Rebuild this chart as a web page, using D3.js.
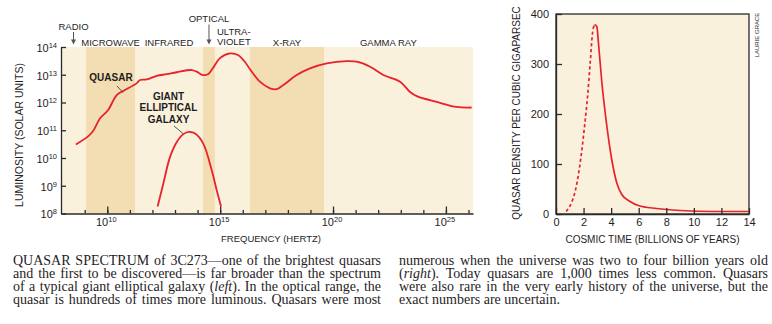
<!DOCTYPE html>
<html>
<head>
<meta charset="utf-8">
<script src="https://cdn.jsdelivr.net/npm/d3@7"></script>
<style>
body { margin: 0; background: #fff; }
svg { display: block; }
.sans { font-family: "Liberation Sans", Arial, sans-serif; fill: #1f1d1e; }
.cap { font-family: "Liberation Serif", "Times New Roman", serif; font-size: 14px; fill: #1f1d1e; }
.axis path, .axis line { stroke: #2a2a2a; stroke-width: 1.3; }
.axis text { font-family: "Liberation Sans", Arial, sans-serif; fill: #1f1d1e; }
</style>
</head>
<body>
<svg id="chart" width="772" height="324"></svg>
<script>
'use strict'

// spectral bands, edges in log10(Hz)
const bandNames = ['RADIO', 'MICROWAVE', 'INFRARED', 'OPTICAL', 'ULTRA-\nVIOLET', 'X-RAY', 'GAMMA RAY']
const bandEdges = [7.95, 9.06, 11.23, 14.24, 14.77, 16.32, 19.6, 26.2]

// 3C273 spectrum: log10(frequency), log10(luminosity in solar units)
const quasarFreq = [8.61, 9.15, 9.38, 9.68, 10.03, 10.42, 10.78, 11.30, 11.45, 11.75, 12.19, 12.63, 13.08, 13.74, 13.96,
	14.24, 14.46, 14.68, 14.99, 15.44, 15.79, 16.10, 16.32, 16.76, 17.21, 17.50, 17.80, 18.39, 18.98, 19.72, 20.61,
	21.05, 21.64, 22.23, 22.97, 23.41, 23.71, 24.59, 25.48, 26.14]
const quasarLum = [10.49, 10.78, 10.98, 11.43, 11.72, 12.27, 12.45, 12.69, 12.81, 12.83, 12.96, 13.02, 13.09, 13.17, 13.11,
	12.99, 13.02, 13.24, 13.60, 13.77, 13.71, 13.46, 13.20, 12.75, 12.51, 12.48, 12.63, 12.99, 13.23, 13.41, 13.49,
	13.47, 13.29, 12.99, 12.75, 12.38, 12.23, 12.02, 11.84, 11.82]

// giant elliptical galaxy spectrum
const galaxyFreq = [12.23, 12.48, 12.78, 13.08, 13.37, 13.63, 13.89, 14.25, 14.63, 14.85, 15.04]
const galaxyLum = [8.25, 9.07, 10.04, 10.58, 10.86, 10.94, 10.88, 10.52, 9.55, 8.83, 8.25]

// quasar density per cubic gigaparsec against cosmic time (billions of years)
const densityTime = [0.74, 1.52, 1.88, 2.07, 2.29, 2.48, 2.65, 2.79, 2.96, 3.08, 3.33, 3.66, 4.05, 4.41, 4.77, 5.37, 5.97, 7.3, 9.0, 11.4, 14]
const densityValue = [5, 62, 129, 175, 235, 302, 362, 379, 375, 342, 262, 182, 108, 62, 39, 25, 17, 11, 7, 5, 5]
const peakTime = 2.79 // the rise before this is uncertain and drawn dashed

const lumTicks = [8, 9, 10, 11, 12, 13, 14]
const freqMajor = [10, 15, 20, 25]
const freqMinor = d3.range(9, 27)
const timeTicks = [0, 2, 4, 6, 8, 10, 12, 14]
const densityTicks = [0, 100, 200, 300, 400]

const captionLeft = [
	'QUASAR SPECTRUM of 3C273\u2014one of the brightest quasars',
	'and the first to be discovered\u2014is far broader than the spectrum',
	'of a typical giant elliptical galaxy (*left*). In the optical range, the',
	'quasar is hundreds of times more luminous. Quasars were most'
]
const captionRight = [
	'numerous when the universe was two to four billion years old',
	'(*right*). Today quasars are 1,000 times less common. Quasars',
	'were also rare in the very early history of the universe, but the',
	'exact numbers are uncertain.'
]

const red = '#e8212b'
const light = '#f9f1dc', dark = '#f3deb3'
const svg = d3.select('#chart')

// ---------- left: spectrum ----------
const x = d3.scaleLinear().domain([bandEdges[0], bandEdges[bandEdges.length - 1]]).range([61, 473])
const y = d3.scaleLinear().domain([8, 14]).range([213.5, 47])

const left = svg.append('g')

// band backgrounds
left.selectAll('rect.band')
	.data(bandNames)
	.enter().append('rect')
	.attr('x', (d, i) => x(bandEdges[i]))
	.attr('width', (d, i) => x(bandEdges[i + 1]) - x(bandEdges[i]))
	.attr('y', y(14))
	.attr('height', y(8) - y(14))
	.attr('fill', (d, i) => i % 2 ? dark : light)

// band names above the plot; narrow bands get a raised label and an arrow
bandNames.forEach((name, i) => {
	const x0 = x(bandEdges[i]), x1 = x(bandEdges[i + 1])
	const narrow = x1 - x0 < 30
	const lines = name.split('\n')
	const t = left.append('text').attr('class', 'sans').style('font-size', '9.5px')
	if (narrow) {
		const cx = (x0 + x1) / 2
		const base = name === 'OPTICAL' ? 22 : 29.5
		t.attr('x', cx).attr('y', base).attr('text-anchor', 'middle').text(name)
		left.append('line')
			.attr('x1', cx).attr('x2', cx).attr('y1', base + 2.5).attr('y2', 42)
			.attr('stroke', '#555').attr('stroke-width', 1)
		left.append('path')
			.attr('d', `M${cx - 2.5},${39.5}L${cx + 2.5},${39.5}L${cx},${44.5}Z`)
			.attr('fill', '#555')
	} else if (lines.length > 1) {
		t.attr('x', x0 + 2).attr('y', 34.5)
		lines.forEach((l, k) => t.append('tspan').attr('x', x0 + 2).attr('dy', k ? 10 : 0).text(l))
	} else {
		const cx = (x0 + Math.min(x1, x(25.3))) / 2
		t.attr('x', cx).attr('y', 45.5).attr('text-anchor', 'middle').text(name)
	}
})

const lumLine = d3.line().curve(d3.curveCatmullRom.alpha(0.5))
	.x(d => x(d[0])).y(d => y(d[1]))

left.append('path')
	.datum(d3.zip(galaxyFreq, galaxyLum))
	.attr('d', lumLine)
	.attr('fill', 'none').attr('stroke', red).attr('stroke-width', 1.8)

left.append('path')
	.datum(d3.zip(quasarFreq, quasarLum))
	.attr('d', lumLine)
	.attr('fill', 'none').attr('stroke', red).attr('stroke-width', 1.8)

// curve labels with leader lines
left.append('text').attr('class', 'sans')
	.style('font-size', '10px').style('font-weight', 'bold')
	.attr('x', 111).attr('y', 80.5).attr('text-anchor', 'middle').text('QUASAR')
left.append('line').attr('x1', 117).attr('y1', 86).attr('x2', 123).attr('y2', 92.5)
	.attr('stroke', '#444').attr('stroke-width', 0.9)
const gx = left.append('text').attr('class', 'sans')
	.style('font-size', '10px').style('font-weight', 'bold').attr('text-anchor', 'middle')
;['GIANT', 'ELLIPTICAL', 'GALAXY'].forEach((l, k) => {
	gx.append('tspan').attr('x', 168.5).attr('y', 99.5 + k * 11.7).text(l)
})
left.append('line').attr('x1', 174).attr('y1', 126).attr('x2', 183).attr('y2', 133.5)
	.attr('stroke', '#444').attr('stroke-width', 0.9)

// power-of-ten label: "10" with raised exponent
function powLabel (sel, size) {
	sel.each(function (d) {
		const t = d3.select(this)
		t.text('')
		t.append('tspan').text('10')
		t.append('tspan').attr('dy', -4).style('font-size', size + 'px').text(d)
	})
}

// x axis: minor decade ticks plus labelled major ones
left.append('g').attr('class', 'axis')
	.attr('transform', `translate(0,${y(8)})`)
	.call(d3.axisBottom(x).tickValues(freqMinor).tickSize(-3.5).tickSizeOuter(0).tickFormat(''))
const xAxis = left.append('g').attr('class', 'axis')
	.attr('transform', `translate(0,${y(8)})`)
	.call(d3.axisBottom(x).tickValues(freqMajor).tickSize(-7).tickSizeOuter(0))
xAxis.select('.domain').remove()
xAxis.selectAll('text')
	.attr('y', 12).attr('dy', 0).attr('dx', -1.5).style('font-size', '11px')
	.call(powLabel, 7.5)

const yAxis = left.append('g').attr('class', 'axis')
	.attr('transform', `translate(${x(bandEdges[0])},0)`)
	.call(d3.axisLeft(y).tickValues(lumTicks).tickSize(-5).tickSizeOuter(0).tickPadding(4))
yAxis.selectAll('text').attr('dy', '0.4em').style('font-size', '11px').call(powLabel, 7.5)

left.append('text').attr('class', 'sans').style('font-size', '9.5px')
	.attr('x', 271).attr('y', 242).attr('text-anchor', 'middle').text('FREQUENCY (HERTZ)')
left.append('text').attr('class', 'sans').style('font-size', '10.5px')
	.attr('transform', 'translate(22.5,135) rotate(-90)').attr('text-anchor', 'middle')
	.text('LUMINOSITY (SOLAR UNITS)')

// ---------- right: quasar density ----------
const tx = d3.scaleLinear().domain([0, 14]).range([556, 749])
const dy = d3.scaleLinear().domain([0, 400]).range([214, 14])

const right = svg.append('g')
right.append('rect')
	.attr('x', tx(0)).attr('y', dy(400))
	.attr('width', tx(14) - tx(0)).attr('height', dy(0) - dy(400))
	.attr('fill', light).attr('stroke', '#2a2a2a').attr('stroke-width', 1.3)

const densityPts = d3.zip(densityTime, densityValue)
const densLine = d3.line().curve(d3.curveMonotoneX).x(d => tx(d[0])).y(d => dy(d[1]))
right.append('path')
	.datum(densityPts.filter(d => d[0] <= peakTime))
	.attr('d', densLine)
	.attr('fill', 'none').attr('stroke', red).attr('stroke-width', 1.7)
	.attr('stroke-dasharray', '3.2,2.6')
right.append('path')
	.datum(densityPts.filter(d => d[0] >= peakTime))
	.attr('d', densLine)
	.attr('fill', 'none').attr('stroke', red).attr('stroke-width', 1.7)

const tAxis = right.append('g').attr('class', 'axis')
	.attr('transform', `translate(0,${dy(0)})`)
	.call(d3.axisBottom(tx).tickValues(timeTicks).tickSize(-6).tickSizeOuter(0))
tAxis.selectAll('text').attr('y', 12).attr('dy', 0).style('font-size', '11px')

const vAxis = right.append('g').attr('class', 'axis')
	.attr('transform', `translate(${tx(0)},0)`)
	.call(d3.axisLeft(dy).tickValues(densityTicks).tickSize(-6).tickSizeOuter(0).tickPadding(7))
vAxis.selectAll('text').attr('dy', '0.36em').style('font-size', '11px')

right.append('text').attr('class', 'sans').style('font-size', '10px')
	.attr('x', 652.5).attr('y', 243).attr('text-anchor', 'middle').text('COSMIC TIME (BILLIONS OF YEARS)')
right.append('text').attr('class', 'sans').style('font-size', '10px')
	.attr('transform', 'translate(520,113) rotate(-90)').attr('text-anchor', 'middle')
	.text('QUASAR DENSITY PER CUBIC GIGAPARSEC')
right.append('text').attr('class', 'sans').style('font-size', '6px')
	.attr('transform', 'translate(759,35) rotate(-90)').attr('text-anchor', 'middle')
	.text('LAURIE GRACE')

// ---------- caption, justified by word spacing ----------
function caption (lines, x0, x1) {
	lines.forEach((line, k) => {
		const t = svg.append('text').attr('class', 'cap').attr('x', x0).attr('y', 265 + k * 13)
		line.split('*').forEach((part, j) => {
			const s = t.append('tspan').text(part)
			if (j % 2) s.style('font-style', 'italic')
		})
		const last = k === lines.length - 1 && lines === captionRight
		if (!last) {
			const natural = t.node().getComputedTextLength()
			const gaps = line.split(' ').length - 1
			t.style('word-spacing', ((x1 - x0 - natural) / gaps) + 'px')
		}
	})
}
caption(captionLeft, 13, 381)
caption(captionRight, 399, 768)
</script>
</body>
</html>
